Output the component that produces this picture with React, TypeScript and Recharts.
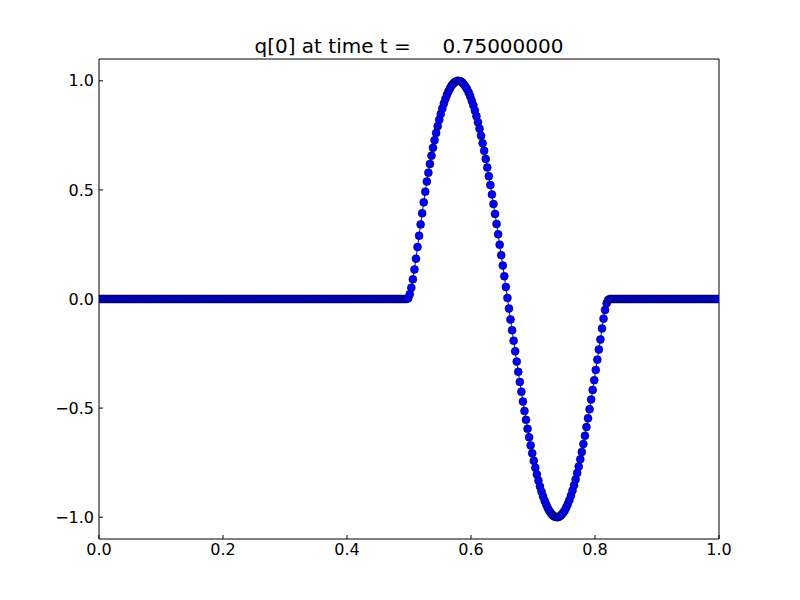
import React from "react";
import { LineChart, Line, XAxis, YAxis } from "recharts";

const xValues: number[] = [
  0.00125, 0.00375, 0.00625, 0.00875, 0.01125, 0.01375, 0.01625, 0.01875, 0.02125, 0.02375, 0.02625, 0.02875, 0.03125, 0.03375, 0.03625, 0.03875, 0.04125, 0.04375, 0.04625, 0.04875,
  0.05125, 0.05375, 0.05625, 0.05875, 0.06125, 0.06375, 0.06625, 0.06875, 0.07125, 0.07375, 0.07625, 0.07875, 0.08125, 0.08375, 0.08625, 0.08875, 0.09125, 0.09375, 0.09625, 0.09875,
  0.10125, 0.10375, 0.10625, 0.10875, 0.11125, 0.11375, 0.11625, 0.11875, 0.12125, 0.12375, 0.12625, 0.12875, 0.13125, 0.13375, 0.13625, 0.13875, 0.14125, 0.14375, 0.14625, 0.14875,
  0.15125, 0.15375, 0.15625, 0.15875, 0.16125, 0.16375, 0.16625, 0.16875, 0.17125, 0.17375, 0.17625, 0.17875, 0.18125, 0.18375, 0.18625, 0.18875, 0.19125, 0.19375, 0.19625, 0.19875,
  0.20125, 0.20375, 0.20625, 0.20875, 0.21125, 0.21375, 0.21625, 0.21875, 0.22125, 0.22375, 0.22625, 0.22875, 0.23125, 0.23375, 0.23625, 0.23875, 0.24125, 0.24375, 0.24625, 0.24875,
  0.25125, 0.25375, 0.25625, 0.25875, 0.26125, 0.26375, 0.26625, 0.26875, 0.27125, 0.27375, 0.27625, 0.27875, 0.28125, 0.28375, 0.28625, 0.28875, 0.29125, 0.29375, 0.29625, 0.29875,
  0.30125, 0.30375, 0.30625, 0.30875, 0.31125, 0.31375, 0.31625, 0.31875, 0.32125, 0.32375, 0.32625, 0.32875, 0.33125, 0.33375, 0.33625, 0.33875, 0.34125, 0.34375, 0.34625, 0.34875,
  0.35125, 0.35375, 0.35625, 0.35875, 0.36125, 0.36375, 0.36625, 0.36875, 0.37125, 0.37375, 0.37625, 0.37875, 0.38125, 0.38375, 0.38625, 0.38875, 0.39125, 0.39375, 0.39625, 0.39875,
  0.40125, 0.40375, 0.40625, 0.40875, 0.41125, 0.41375, 0.41625, 0.41875, 0.42125, 0.42375, 0.42625, 0.42875, 0.43125, 0.43375, 0.43625, 0.43875, 0.44125, 0.44375, 0.44625, 0.44875,
  0.45125, 0.45375, 0.45625, 0.45875, 0.46125, 0.46375, 0.46625, 0.46875, 0.47125, 0.47375, 0.47625, 0.47875, 0.48125, 0.48375, 0.48625, 0.48875, 0.49125, 0.49375, 0.49625, 0.49875,
  0.50125, 0.50375, 0.50625, 0.50875, 0.51125, 0.51375, 0.51625, 0.51875, 0.52125, 0.52375, 0.52625, 0.52875, 0.53125, 0.53375, 0.53625, 0.53875, 0.54125, 0.54375, 0.54625, 0.54875,
  0.55125, 0.55375, 0.55625, 0.55875, 0.56125, 0.56375, 0.56625, 0.56875, 0.57125, 0.57375, 0.57625, 0.57875, 0.58125, 0.58375, 0.58625, 0.58875, 0.59125, 0.59375, 0.59625, 0.59875,
  0.60125, 0.60375, 0.60625, 0.60875, 0.61125, 0.61375, 0.61625, 0.61875, 0.62125, 0.62375, 0.62625, 0.62875, 0.63125, 0.63375, 0.63625, 0.63875, 0.64125, 0.64375, 0.64625, 0.64875,
  0.65125, 0.65375, 0.65625, 0.65875, 0.66125, 0.66375, 0.66625, 0.66875, 0.67125, 0.67375, 0.67625, 0.67875, 0.68125, 0.68375, 0.68625, 0.68875, 0.69125, 0.69375, 0.69625, 0.69875,
  0.70125, 0.70375, 0.70625, 0.70875, 0.71125, 0.71375, 0.71625, 0.71875, 0.72125, 0.72375, 0.72625, 0.72875, 0.73125, 0.73375, 0.73625, 0.73875, 0.74125, 0.74375, 0.74625, 0.74875,
  0.75125, 0.75375, 0.75625, 0.75875, 0.76125, 0.76375, 0.76625, 0.76875, 0.77125, 0.77375, 0.77625, 0.77875, 0.78125, 0.78375, 0.78625, 0.78875, 0.79125, 0.79375, 0.79625, 0.79875,
  0.80125, 0.80375, 0.80625, 0.80875, 0.81125, 0.81375, 0.81625, 0.81875, 0.82125, 0.82375, 0.82625, 0.82875, 0.83125, 0.83375, 0.83625, 0.83875, 0.84125, 0.84375, 0.84625, 0.84875,
  0.85125, 0.85375, 0.85625, 0.85875, 0.86125, 0.86375, 0.86625, 0.86875, 0.87125, 0.87375, 0.87625, 0.87875, 0.88125, 0.88375, 0.88625, 0.88875, 0.89125, 0.89375, 0.89625, 0.89875,
  0.90125, 0.90375, 0.90625, 0.90875, 0.91125, 0.91375, 0.91625, 0.91875, 0.92125, 0.92375, 0.92625, 0.92875, 0.93125, 0.93375, 0.93625, 0.93875, 0.94125, 0.94375, 0.94625, 0.94875,
  0.95125, 0.95375, 0.95625, 0.95875, 0.96125, 0.96375, 0.96625, 0.96875, 0.97125, 0.97375, 0.97625, 0.97875, 0.98125, 0.98375, 0.98625, 0.98875, 0.99125, 0.99375, 0.99625, 0.99875,
];

const qValues: number[] = [
  0, 0, 0, 0, 0, 0, 0, 0, 0, 0, 0, 0, 0, 0, 0, 0, 0, 0, 0, 0,
  0, 0, 0, 0, 0, 0, 0, 0, 0, 0, 0, 0, 0, 0, 0, 0, 0, 0, 0, 0,
  0, 0, 0, 0, 0, 0, 0, 0, 0, 0, 0, 0, 0, 0, 0, 0, 0, 0, 0, 0,
  0, 0, 0, 0, 0, 0, 0, 0, 0, 0, 0, 0, 0, 0, 0, 0, 0, 0, 0, 0,
  0, 0, 0, 0, 0, 0, 0, 0, 0, 0, 0, 0, 0, 0, 0, 0, 0, 0, 0, 0,
  0, 0, 0, 0, 0, 0, 0, 0, 0, 0, 0, 0, 0, 0, 0, 0, 0, 0, 0, 0,
  0, 0, 0, 0, 0, 0, 0, 0, 0, 0, 0, 0, 0, 0, 0, 0, 0, 0, 0, 0,
  0, 0, 0, 0, 0, 0, 0, 0, 0, 0, 0, 0, 0, 0, 0, 0, 0, 0, 0, 0,
  0, 0, 0, 0, 0, 0, 0, 0, 0, 0, 0, 0, 0, 0, 0, 0, 0, 0, 0, 0,
  0, 0, 0, 0, 0, 0, 0, 0, 0, 0, 0, 0, 0, 0, 0, 0, 0, 0, 0, 0.004,
  0.022, 0.052, 0.09, 0.135, 0.185, 0.238, 0.29, 0.342, 0.393, 0.443, 0.492, 0.538, 0.579, 0.619, 0.657, 0.693, 0.728, 0.761, 0.792, 0.821,
  0.848, 0.873, 0.896, 0.917, 0.936, 0.952, 0.966, 0.978, 0.987, 0.994, 0.998, 1.0, 0.999, 0.997, 0.991, 0.983, 0.973, 0.961, 0.946, 0.929,
  0.909, 0.888, 0.864, 0.838, 0.81, 0.78, 0.748, 0.714, 0.679, 0.642, 0.603, 0.563, 0.522, 0.479, 0.435, 0.39, 0.344, 0.297, 0.249, 0.201,
  0.153, 0.104, 0.055, 0.005, -0.044, -0.094, -0.143, -0.191, -0.24, -0.287, -0.334, -0.38, -0.425, -0.47, -0.513, -0.554, -0.595, -0.634, -0.671, -0.707,
  -0.741, -0.773, -0.804, -0.832, -0.859, -0.883, -0.905, -0.925, -0.942, -0.958, -0.971, -0.981, -0.99, -0.996, -0.999, -1.0, -0.999, -0.995, -0.988, -0.98,
  -0.969, -0.955, -0.939, -0.921, -0.901, -0.878, -0.854, -0.827, -0.798, -0.768, -0.735, -0.701, -0.665, -0.627, -0.587, -0.547, -0.505, -0.461, -0.417, -0.372,
  -0.325, -0.278, -0.232, -0.186, -0.135, -0.09, -0.05, -0.02, -0.005, 0, 0, 0, 0, 0, 0, 0, 0, 0, 0, 0,
  0, 0, 0, 0, 0, 0, 0, 0, 0, 0, 0, 0, 0, 0, 0, 0, 0, 0, 0, 0,
  0, 0, 0, 0, 0, 0, 0, 0, 0, 0, 0, 0, 0, 0, 0, 0, 0, 0, 0, 0,
  0, 0, 0, 0, 0, 0, 0, 0, 0, 0, 0, 0, 0, 0, 0, 0, 0, 0, 0, 0,
];

const xTicks: number[] = [0, 0.2, 0.4, 0.6, 0.8, 1.0];
const yTicks: number[] = [-1.0, -0.5, 0.0, 0.5, 1.0];
const titleText = "q[0] at time t =     0.75000000";

const data = xValues.map((x, i) => ({ x, q: qValues[i] }));

const fmt = (v: number) => {
  const s = v.toFixed(1);
  return s.startsWith("-") ? "\u2212" + s.slice(1) : s;
};

const FONT = "DejaVu Sans";

export default function App() {
  return (
    <div style={{ position: "absolute", left: 0, top: 0, width: 800, height: 600, background: "#fff" }}>
      <div
        style={{
          position: "absolute",
          left: 99,
          top: 34,
          width: 620,
          textAlign: "center",
          fontFamily: FONT,
          fontSize: 20,
          whiteSpace: "pre",
          color: "#000",
          lineHeight: "normal",
        }}
      >
        {titleText}
      </div>
      <LineChart
        width={800}
        height={600}
        data={data}
        margin={{ top: 58, right: 80, bottom: 31, left: 39 }}
      >
        <XAxis
          xAxisId="bottom"
          dataKey="x"
          type="number"
          domain={[0, 1]}
          ticks={xTicks}
          tickFormatter={fmt}
          orientation="bottom"
          height={30}
          tickSize={-4}
          tickMargin={9}
          axisLine={{ stroke: "#000", strokeWidth: 1 }}
          tickLine={{ stroke: "#000", strokeWidth: 1 }}
          tick={{ fill: "#000", fontSize: 16, fontFamily: FONT }}
          allowDataOverflow
        />
        <XAxis
          xAxisId="top"
          dataKey="x"
          type="number"
          domain={[0, 1]}
          ticks={xTicks}
          orientation="top"
          height={1}
          tickSize={-4}
          tick={false}
          axisLine={{ stroke: "#000", strokeWidth: 1 }}
          tickLine={{ stroke: "#000", strokeWidth: 1 }}
          allowDataOverflow
        />
        <YAxis
          yAxisId="left"
          type="number"
          domain={[-1.1, 1.1]}
          ticks={yTicks}
          tickFormatter={fmt}
          orientation="left"
          width={60}
          tickSize={-4}
          tickMargin={9}
          axisLine={{ stroke: "#000", strokeWidth: 1 }}
          tickLine={{ stroke: "#000", strokeWidth: 1 }}
          tick={{ fill: "#000", fontSize: 16, fontFamily: FONT }}
          allowDataOverflow
        />
        <YAxis
          yAxisId="right"
          type="number"
          domain={[-1.1, 1.1]}
          ticks={yTicks}
          orientation="right"
          width={1}
          tickSize={-4}
          tick={false}
          axisLine={{ stroke: "#000", strokeWidth: 1 }}
          tickLine={{ stroke: "#000", strokeWidth: 1 }}
          allowDataOverflow
        />
        <Line
          xAxisId="top"
          yAxisId="right"
          dataKey="q"
          stroke="none"
          dot={false}
          activeDot={false}
          isAnimationActive={false}
        />
        <Line
          xAxisId="bottom"
          yAxisId="left"
          dataKey="q"
          type="linear"
          stroke="#0000ff"
          strokeWidth={1}
          dot={{ r: 4, fill: "#0000ff", stroke: "#000", strokeWidth: 0.5, fillOpacity: 1 }}
          activeDot={false}
          isAnimationActive={false}
        />
      </LineChart>
    </div>
  );
}
